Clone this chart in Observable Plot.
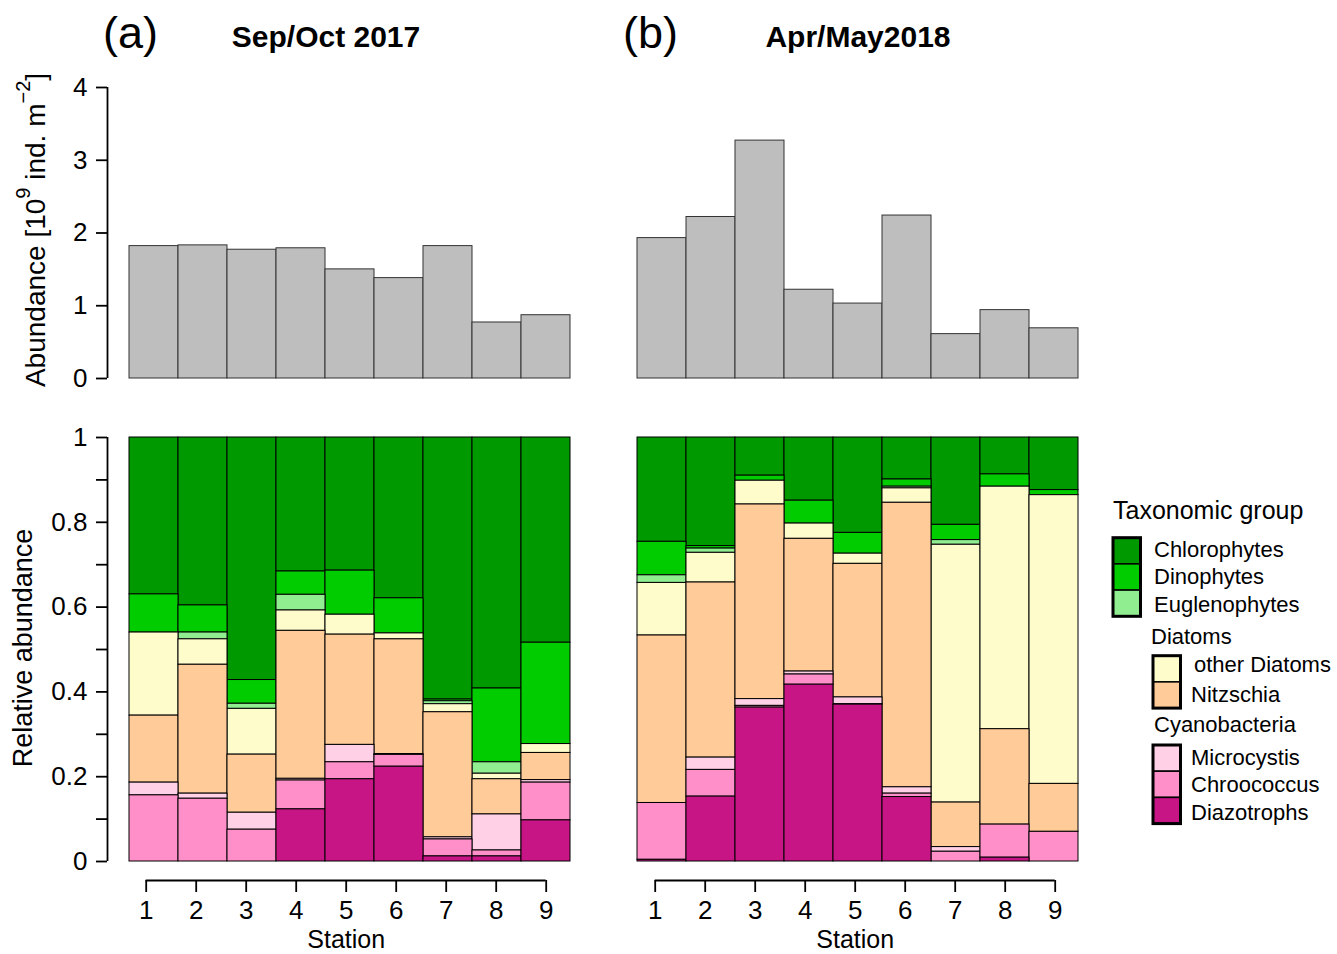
<!DOCTYPE html>
<html><head><meta charset="utf-8">
<script src="https://cdn.jsdelivr.net/npm/d3@7"></script>
<script src="https://cdn.jsdelivr.net/npm/@observablehq/plot@0.6"></script>
<style>
body{margin:0;background:#fff;}
#root{position:relative;width:1337px;height:954px;font-family:"Liberation Sans",Arial,sans-serif;overflow:hidden;}
.p{position:absolute;}
.p svg{overflow:visible;}
</style></head><body><div id="root"></div>
<script>
// ---------- data ----------
const stations = [1, 2, 3, 4, 5, 6, 7, 8, 9];
const groups = ["Chlorophytes", "Dinophytes", "Euglenophytes", "other Diatoms", "Nitzschia", "Microcystis", "Chroococcus", "Diazotrophs"];
const colors = ["#009900", "#00cc00", "#90ee90", "#fffccc", "#ffcc99", "#ffd0e6", "#ff8fc8", "#c71585"];
const stackOrder = ["Diazotrophs", "Chroococcus", "Microcystis", "Nitzschia", "other Diatoms", "Euglenophytes", "Dinophytes", "Chlorophytes"];

const abundance2017 = [1.82, 1.83, 1.77, 1.79, 1.50, 1.38, 1.82, 0.77, 0.87];
const abundance2018 = [1.93, 2.22, 3.27, 1.22, 1.03, 2.24, 0.61, 0.94, 0.69];

const chloro2017 = [0.370, 0.396, 0.572, 0.316, 0.314, 0.380, 0.618, 0.592, 0.484];
const dino2017   = [0.090, 0.064, 0.056, 0.055, 0.104, 0.083, 0.004, 0.174, 0.239];
const eugl2017   = [0.000, 0.016, 0.012, 0.037, 0.000, 0.000, 0.007, 0.027, 0.000];
const otherD2017 = [0.196, 0.060, 0.108, 0.048, 0.047, 0.014, 0.019, 0.013, 0.021];
const nitz2017   = [0.158, 0.304, 0.137, 0.349, 0.260, 0.271, 0.295, 0.083, 0.064];
const micro2017  = [0.030, 0.012, 0.040, 0.004, 0.041, 0.002, 0.005, 0.085, 0.006];
const chroo2017  = [0.156, 0.148, 0.075, 0.068, 0.040, 0.028, 0.040, 0.014, 0.089];
const diaz2017   = [0.000, 0.000, 0.000, 0.123, 0.194, 0.224, 0.012, 0.012, 0.097];

const chloro2018 = [0.246, 0.256, 0.090, 0.149, 0.225, 0.099, 0.206, 0.087, 0.124];
const dino2018   = [0.079, 0.006, 0.012, 0.054, 0.049, 0.017, 0.036, 0.029, 0.012];
const eugl2018   = [0.018, 0.010, 0.000, 0.000, 0.000, 0.004, 0.011, 0.000, 0.000];
const otherD2018 = [0.124, 0.070, 0.056, 0.036, 0.024, 0.034, 0.608, 0.572, 0.681];
const nitz2018   = [0.395, 0.413, 0.459, 0.313, 0.315, 0.671, 0.105, 0.225, 0.113];
const micro2018  = [0.000, 0.029, 0.016, 0.007, 0.016, 0.015, 0.011, 0.000, 0.000];
const chroo2018  = [0.134, 0.063, 0.004, 0.024, 0.001, 0.008, 0.023, 0.078, 0.070];
const diaz2018   = [0.004, 0.153, 0.363, 0.417, 0.370, 0.152, 0.000, 0.009, 0.000];

const absTicks = [0, 1, 2, 3, 4];
const relTicks = [0, 0.1, 0.2, 0.3, 0.4, 0.5, 0.6, 0.7, 0.8, 0.9, 1];

// ---------- helpers ----------
const FONT = "Liberation Sans, Arial, sans-serif";
const root = document.getElementById("root");
function place(el, left, top) {
  const d = document.createElement("div");
  d.className = "p"; d.style.left = left + "px"; d.style.top = top + "px";
  d.appendChild(el); root.appendChild(d);
}
function longTable(series) {
  const rows = [];
  groups.forEach((g, gi) => series[gi].forEach((v, i) => rows.push({station: stations[i], group: g, value: v})));
  return rows;
}
const table2017 = longTable([chloro2017, dino2017, eugl2017, otherD2017, nitz2017, micro2017, chroo2017, diaz2017]);
const table2018 = longTable([chloro2018, dino2018, eugl2018, otherD2018, nitz2018, micro2018, chroo2018, diaz2018]);

const TOP = {top: 60, height: 330, mt: 27, mb: 12};
const BOT = {top: 420, height: 450, mt: 17, mb: 9};

function absPlot(values, width, mL, mR) {
  return Plot.plot({
    width, height: TOP.height, marginLeft: mL, marginRight: mR, marginTop: TOP.mt, marginBottom: TOP.mb,
    style: {fontFamily: FONT, background: "transparent"},
    x: {type: "band", domain: stations, padding: 0, axis: null},
    y: {domain: [0, 4], axis: null},
    marks: [
      Plot.barY(stations.map((s, i) => ({station: s, value: values[i]})),
        {x: "station", y: "value", fill: "#bebebe", stroke: "#333", strokeWidth: 1})
    ]
  });
}
function relPlot(table, width, mL, mR) {
  return Plot.plot({
    width, height: BOT.height, marginLeft: mL, marginRight: mR, marginTop: BOT.mt, marginBottom: BOT.mb,
    style: {fontFamily: FONT, background: "transparent"},
    x: {type: "band", domain: stations, padding: 0, axis: null},
    y: {domain: [0, 1], axis: null},
    color: {domain: groups, range: colors},
    marks: [
      Plot.barY(table, {x: "station", y: "value", fill: "group", order: stackOrder, offset: "normalize",
        stroke: "#000", strokeWidth: 1})
    ]
  });
}
function yAxisPlot(cfg, domain, ticks, fmt) {
  return Plot.plot({
    width: 109, height: cfg.height, marginLeft: 107, marginRight: 1, marginTop: cfg.mt, marginBottom: cfg.mb,
    style: {fontFamily: FONT, background: "transparent", color: "#000"},
    x: {domain: [0, 1], axis: null},
    y: {domain},
    marks: [
      Plot.ruleX([0], {y1: domain[0], y2: domain[1], strokeWidth: 1.8}),
      Plot.axisY({ticks, tickSize: 11, tickPadding: 9, fontSize: 26, strokeWidth: 1.8, tickFormat: fmt, label: null})
    ]
  });
}
function xAxisPlot() {
  return Plot.plot({
    width: 600, height: 92, marginLeft: 145.7, marginRight: 54.3, marginTop: 18, marginBottom: 73,
    style: {fontFamily: FONT, background: "transparent", color: "#000"},
    x: {domain: [1, 9]},
    y: {domain: [0, 1], axis: null},
    marks: [
      Plot.ruleY([0], {x1: 1, x2: 9, strokeWidth: 1.8}),
      Plot.axisX({ticks: stations, tickSize: 12, tickPadding: 8, fontSize: 26, strokeWidth: 1.8, tickFormat: d => String(d), label: null}),
      Plot.text(["Station"], {frameAnchor: "bottom", dy: 67, fontSize: 25, text: d => d, fill: "#000"})
    ]
  });
}

// ---------- panels ----------
place(absPlot(abundance2017, 600, 128, 30), 0, TOP.top);
place(yAxisPlot(TOP, [0, 4], absTicks, d => String(d)), 0, TOP.top);
place(absPlot(abundance2018, 500, 37.3, 21.3), 600, TOP.top);

place(relPlot(table2017, 600, 128, 30), 0, BOT.top);
place(yAxisPlot(BOT, [0, 1], relTicks, d => (Math.round(d * 10) % 2 ? "" : String(Math.round(d * 10) / 10))), 0, BOT.top);
place(relPlot(table2018, 500, 37.3, 21.3), 600, BOT.top);

place(xAxisPlot(), 0, 861);
place(xAxisPlot(), 509.3, 861);

// ---------- text overlay: titles, axis titles, legend ----------
const svg = d3.select(root).append("svg")
  .attr("width", 1337).attr("height", 954)
  .style("position", "absolute").style("left", 0).style("top", 0)
  .style("font-family", FONT).style("pointer-events", "none");

svg.append("text").attr("x", 103).attr("y", 48).attr("font-size", 45).text("(a)");
svg.append("text").attr("x", 623).attr("y", 48).attr("font-size", 45).text("(b)");
svg.append("text").attr("x", 326).attr("y", 47).attr("font-size", 30).attr("font-weight", "bold")
  .attr("text-anchor", "middle").text("Sep/Oct 2017");
svg.append("text").attr("x", 858).attr("y", 47).attr("font-size", 30).attr("font-weight", "bold")
  .attr("text-anchor", "middle").text("Apr/May2018");

const yl = svg.append("text").attr("transform", "translate(45,230) rotate(-90)")
  .attr("text-anchor", "middle").attr("font-size", 28);
yl.append("tspan").text("Abundance [10");
yl.append("tspan").attr("dy", -15).attr("font-size", 20).text("9");
yl.append("tspan").attr("dy", 15).text(" ind. m");
yl.append("tspan").attr("dy", -15).attr("font-size", 20).text("\u22122");
yl.append("tspan").attr("dy", 15).text("]");

svg.append("text").attr("transform", "translate(32,648) rotate(-90)")
  .attr("text-anchor", "middle").attr("font-size", 27).text("Relative abundance");

// legend
const col = Object.fromEntries(groups.map((g, i) => [g, colors[i]]));
svg.append("text").attr("x", 1113).attr("y", 519).attr("font-size", 25).text("Taxonomic group");
const legendBlocks = [
  {x: 1113, y: 537.7, items: ["Chlorophytes", "Dinophytes", "Euglenophytes"], tx: 1154, ty: [557, 584, 612]},
  {x: 1153, y: 655.7, items: ["other Diatoms", "Nitzschia"], tx: [1194, 1191], ty: [672, 702]},
  {x: 1153, y: 745, items: ["Microcystis", "Chroococcus", "Diazotrophs"], tx: 1191, ty: [765, 792, 820]}
];
const bh = 26.2, bw = 27.5;
legendBlocks.forEach(b => {
  b.items.forEach((g, i) => {
    svg.append("rect").attr("x", b.x).attr("y", b.y + i * bh).attr("width", bw).attr("height", bh)
      .attr("fill", col[g]).attr("stroke", "#000").attr("stroke-width", 1.5);
    const tx = Array.isArray(b.tx) ? b.tx[i] : b.tx;
    svg.append("text").attr("x", tx).attr("y", b.ty[i]).attr("font-size", 22).text(g);
  });
  svg.append("rect").attr("x", b.x).attr("y", b.y).attr("width", bw).attr("height", bh * b.items.length)
    .attr("fill", "none").attr("stroke", "#000").attr("stroke-width", 3);
});
svg.append("text").attr("x", 1151).attr("y", 644).attr("font-size", 22).text("Diatoms");
svg.append("text").attr("x", 1154).attr("y", 732).attr("font-size", 22).text("Cyanobacteria");
</script></body></html>
